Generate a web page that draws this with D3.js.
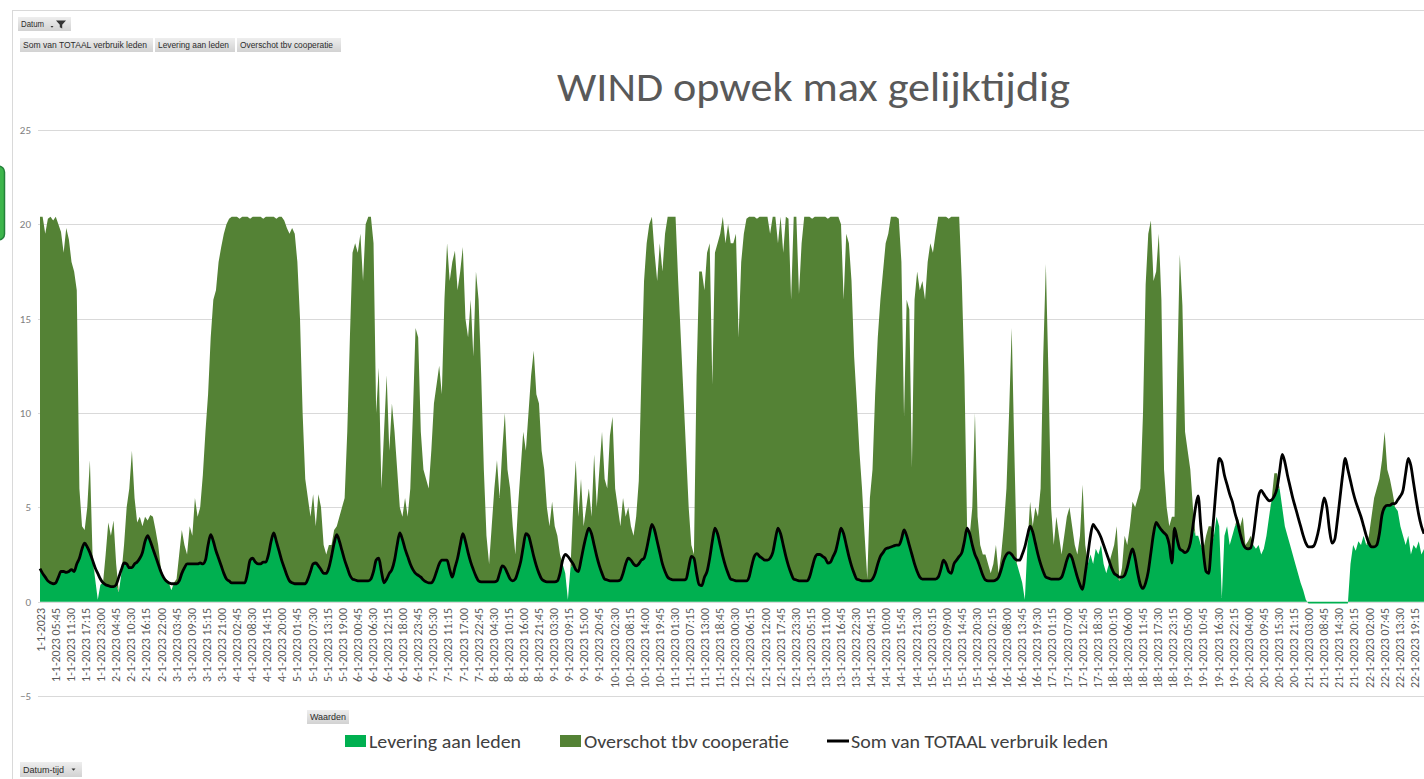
<!DOCTYPE html>
<html><head><meta charset="utf-8">
<script src="https://cdn.jsdelivr.net/npm/d3@7"></script>
<style>
html,body{margin:0;padding:0;background:#fff;overflow:hidden}
svg{display:block;font-family:Carlito,Lato,"Liberation Sans",sans-serif}
</style></head><body>
<svg id="chart" width="1424" height="779"></svg>
<script>
// ---------------- DATA ----------------
const chartTitle = "WIND opwek max gelijktijdig";
const seriesNames = ["Levering aan leden", "Overschot tbv cooperatie", "Som van TOTAAL verbruik leden"];
const seriesColors = ["#00B050", "#548235", "#000000"];
const fieldButtons = ["Som van TOTAAL verbruik leden", "Levering aan leden", "Overschot tbv cooperatie"];
const yTicks = [-5, 0, 5, 10, 15, 20, 25];
const firstDay = "2023-01-01";     // categories: 15-minute timestamps from this day on
const categoryCount = 22 * 96;     // 1-1-2023 00:00 .. 22-1-2023 23:45
const labelEvery = 23;             // Excel shows every 23rd category label
const tickLabels = [
"1-1-2023","1-1-2023 05:45","1-1-2023 11:30","1-1-2023 17:15","1-1-2023 23:00",
"2-1-2023 04:45","2-1-2023 10:30","2-1-2023 16:15","2-1-2023 22:00",
"3-1-2023 03:45","3-1-2023 09:30","3-1-2023 15:15","3-1-2023 21:00",
"4-1-2023 02:45","4-1-2023 08:30","4-1-2023 14:15","4-1-2023 20:00",
"5-1-2023 01:45","5-1-2023 07:30","5-1-2023 13:15","5-1-2023 19:00",
"6-1-2023 00:45","6-1-2023 06:30","6-1-2023 12:15","6-1-2023 18:00","6-1-2023 23:45",
"7-1-2023 05:30","7-1-2023 11:15","7-1-2023 17:00","7-1-2023 22:45",
"8-1-2023 04:30","8-1-2023 10:15","8-1-2023 16:00","8-1-2023 21:45",
"9-1-2023 03:30","9-1-2023 09:15","9-1-2023 15:00","9-1-2023 20:45",
"10-1-2023 02:30","10-1-2023 08:15","10-1-2023 14:00","10-1-2023 19:45",
"11-1-2023 01:30","11-1-2023 07:15","11-1-2023 13:00","11-1-2023 18:45",
"12-1-2023 00:30","12-1-2023 06:15","12-1-2023 12:00","12-1-2023 17:45","12-1-2023 23:30",
"13-1-2023 05:15","13-1-2023 11:00","13-1-2023 16:45","13-1-2023 22:30",
"14-1-2023 04:15","14-1-2023 10:00","14-1-2023 15:45","14-1-2023 21:30",
"15-1-2023 03:15","15-1-2023 09:00","15-1-2023 14:45","15-1-2023 20:30",
"16-1-2023 02:15","16-1-2023 08:00","16-1-2023 13:45","16-1-2023 19:30",
"17-1-2023 01:15","17-1-2023 07:00","17-1-2023 12:45","17-1-2023 18:30",
"18-1-2023 00:15","18-1-2023 06:00","18-1-2023 11:45","18-1-2023 17:30","18-1-2023 23:15",
"19-1-2023 05:00","19-1-2023 10:45","19-1-2023 16:30","19-1-2023 22:15",
"20-1-2023 04:00","20-1-2023 09:45","20-1-2023 15:30","20-1-2023 21:15",
"21-1-2023 03:00","21-1-2023 08:45","21-1-2023 14:30","21-1-2023 20:15",
"22-1-2023 02:00","22-1-2023 07:45","22-1-2023 13:30","22-1-2023 19:15"];

// hourly values (24 per day)
const verbruikPerDag = [
[1.75,1.5,1.3,1.1,1.0,0.95,1.0,1.3,1.6,1.6,1.55,1.6,1.7,1.6,2.0,2.3,2.8,3.1,2.9,2.6,2.2,1.8,1.5,1.2],
[1.0,0.9,0.85,0.8,0.8,0.9,1.3,1.7,2.05,2.0,1.8,1.8,2.0,2.1,2.3,2.6,3.2,3.5,3.2,2.8,2.4,2.0,1.6,1.3],
[1.1,1.0,0.95,0.95,0.95,1.1,1.5,1.8,2.0,2.0,2.0,2.0,2.0,2.05,2.0,2.2,3.0,3.55,3.2,2.7,2.3,1.9,1.5,1.2],
[1.1,1.0,1.0,1.0,1.0,1.0,1.0,1.5,2.2,2.3,2.1,2.0,2.0,2.1,2.1,2.5,3.2,3.65,3.2,2.7,2.2,1.8,1.4,1.1],
[1.0,0.95,0.95,0.95,0.95,0.95,1.2,1.6,2.0,2.05,1.9,1.7,1.5,1.5,1.8,2.4,3.1,3.55,3.2,2.7,2.2,1.8,1.4,1.2],
[1.15,1.1,1.1,1.1,1.1,1.1,1.2,1.6,2.2,2.3,1.6,1.0,1.2,1.5,1.7,2.2,3.0,3.65,3.3,2.8,2.4,2.0,1.7,1.5],
[1.4,1.3,1.15,1.05,1.0,1.0,1.2,1.6,2.0,2.2,2.2,2.2,1.7,1.3,1.8,2.3,3.0,3.6,3.2,2.6,2.1,1.7,1.35,1.1],
[1.05,1.05,1.05,1.05,1.05,1.05,1.1,1.5,1.9,1.8,1.5,1.2,1.1,1.2,1.6,2.1,2.9,3.6,3.5,3.0,2.4,1.9,1.5,1.2],
[1.1,1.05,1.05,1.05,1.05,1.1,1.5,2.2,2.5,2.4,2.2,2.0,1.7,1.6,2.2,2.9,3.5,3.9,3.6,3.0,2.4,1.9,1.5,1.2],
[1.15,1.1,1.1,1.1,1.1,1.15,1.5,2.0,2.3,2.2,2.0,1.9,2.0,2.2,2.3,2.8,3.5,4.1,3.8,3.2,2.6,2.0,1.6,1.3],
[1.2,1.15,1.15,1.15,1.15,1.15,1.2,1.8,2.4,2.3,1.5,0.9,0.85,1.3,1.6,2.3,3.2,3.9,3.6,3.0,2.4,1.9,1.5,1.2],
[1.15,1.1,1.1,1.1,1.1,1.1,1.3,1.9,2.4,2.55,2.4,2.3,2.2,2.2,2.3,2.6,3.3,3.9,3.6,3.0,2.4,1.9,1.5,1.2],
[1.15,1.1,1.1,1.1,1.1,1.3,1.8,2.3,2.5,2.5,2.4,2.3,2.05,2.1,2.4,2.7,3.3,3.9,3.6,3.0,2.4,1.9,1.5,1.2],
[1.15,1.1,1.1,1.1,1.1,1.2,1.5,2.0,2.4,2.6,2.8,2.85,2.9,2.95,3.0,3.0,3.3,3.8,3.5,3.0,2.5,2.0,1.6,1.3],
[1.2,1.2,1.2,1.2,1.2,1.2,1.3,1.7,2.2,2.0,1.6,1.5,2.0,2.2,2.4,2.6,3.2,3.9,3.6,3.0,2.5,2.2,1.8,1.4],
[1.15,1.1,1.1,1.1,1.15,1.3,1.7,2.2,2.5,2.6,2.5,2.3,2.2,2.2,2.5,2.9,3.5,4.0,3.7,3.1,2.5,2.0,1.6,1.3],
[1.25,1.2,1.2,1.2,1.2,1.3,1.7,2.2,2.5,2.3,1.8,1.3,0.9,0.65,1.5,2.5,3.5,4.1,3.9,3.7,3.4,3.0,2.6,2.2],
[1.8,1.5,1.4,1.3,1.3,1.4,1.8,2.4,2.8,2.3,1.5,0.9,0.7,1.0,1.6,2.6,3.6,4.2,4.0,3.8,3.65,3.5,3.0,2.05],
[3.9,3.3,2.8,2.7,2.6,2.7,3.1,4.0,5.0,5.6,4.0,2.6,1.6,1.5,3.0,4.6,6.3,7.6,7.4,6.7,6.2,5.7,5.3,4.7],
[4.2,3.6,3.1,2.85,2.8,2.85,3.5,4.6,5.6,5.9,5.7,5.5,5.35,5.4,5.6,6.0,6.9,7.8,7.4,6.7,6.1,5.5,5.0,4.5],
[4.0,3.5,3.1,2.9,2.9,2.95,3.3,3.9,4.8,5.5,5.0,3.8,3.1,3.3,4.3,5.5,6.7,7.6,7.0,6.4,5.8,5.3,4.9,4.5],
[4.0,3.5,3.1,2.9,2.9,3.0,3.6,4.6,5.0,5.1,5.1,5.2,5.2,5.4,5.6,5.9,6.8,7.6,7.2,6.3,5.4,4.6,4.0,3.6]];

const leveringPerDag = [
[1.75,1.5,1.3,1.1,1.0,0.95,1.0,1.3,1.6,1.6,1.55,1.6,1.7,1.6,2.0,2.3,2.8,3.1,2.9,2.6,2.2,1.2,0.1,0.9],
[1.0,0.9,0.85,0.8,0.8,0.9,0.5,1.5,2.05,2.0,1.8,1.8,2.0,2.1,2.3,2.6,3.2,3.5,3.2,2.8,2.4,2.0,1.6,1.3],
[1.1,1.0,0.6,0.95,0.95,1.1,1.5,1.8,2.0,2.0,2.0,2.0,2.0,2.05,2.0,2.2,3.0,3.55,3.2,2.7,2.3,1.9,1.5,1.2],
[1.1,1.0,1.0,1.0,1.0,1.0,1.0,1.5,2.2,2.3,2.1,2.0,2.0,2.1,2.1,2.5,3.2,3.65,3.2,2.7,2.2,1.8,1.4,1.1],
[1.0,0.95,0.95,0.95,0.95,0.95,1.2,1.6,2.0,2.05,1.9,1.7,1.5,1.5,1.8,2.4,3.1,3.55,3.2,2.7,2.2,1.8,1.4,1.2],
[1.15,1.1,1.1,1.1,1.1,1.1,1.2,1.6,2.2,2.3,1.6,1.0,1.2,1.5,1.7,2.2,3.0,3.65,3.3,2.8,2.4,2.0,1.7,1.5],
[1.4,1.3,1.15,1.05,1.0,1.0,1.2,1.6,2.0,2.2,2.2,2.2,1.7,1.3,1.8,2.3,3.0,3.6,3.2,2.6,2.1,1.7,1.35,1.1],
[1.05,1.05,1.05,1.05,1.05,1.05,1.1,1.5,1.9,1.8,1.5,1.2,1.1,1.2,1.6,2.1,2.9,3.6,3.5,3.0,2.4,1.9,1.5,1.2],
[1.1,1.05,1.05,1.05,1.05,1.1,1.5,2.0,1.5,0.1,1.8,2.0,1.7,1.6,2.2,2.9,3.5,3.9,3.6,3.0,2.4,1.9,1.5,1.2],
[1.15,1.1,1.1,1.1,1.1,1.15,1.5,2.0,2.3,2.2,2.0,1.9,2.0,2.2,2.3,2.8,3.5,4.1,3.8,3.2,2.6,2.0,1.6,1.3],
[1.2,1.15,1.15,1.15,1.15,1.15,1.2,1.8,2.4,2.3,1.5,0.9,0.85,1.3,1.6,2.3,3.2,3.9,3.6,3.0,2.4,1.9,1.5,1.2],
[1.15,1.1,1.1,1.1,1.1,1.1,1.3,1.9,2.4,2.55,2.4,2.3,2.2,2.2,2.3,2.6,3.3,3.9,3.6,3.0,2.4,1.9,1.5,1.2],
[1.15,1.1,1.1,1.1,1.1,1.3,1.8,2.3,2.5,2.5,2.4,2.3,2.05,2.1,2.4,2.7,3.3,3.9,3.6,3.0,2.4,1.9,1.5,1.2],
[1.15,1.1,1.1,1.1,1.1,1.2,1.5,2.0,2.4,2.6,2.8,2.85,2.9,2.95,3.0,3.0,3.3,3.8,3.5,3.0,2.5,2.0,1.6,1.3],
[1.2,1.2,1.2,1.2,1.2,1.2,1.3,1.7,2.2,2.0,1.6,1.5,2.0,2.2,2.4,2.6,3.2,3.9,3.5,3.0,2.5,2.2,1.8,1.4],
[1.15,1.1,1.1,1.1,1.15,1.3,1.7,2.2,2.5,2.6,2.5,2.3,2.0,1.5,1.0,0.1,3.0,4.0,3.7,3.1,2.5,2.0,1.6,1.3],
[1.25,1.2,1.2,1.2,1.2,1.3,1.7,2.2,2.5,2.3,1.8,1.3,0.9,0.65,1.5,2.0,2.5,2.0,2.8,2.5,3.0,2.0,1.5,2.0],
[1.8,1.5,1.4,1.1,1.3,1.4,1.8,2.4,2.8,2.3,1.5,0.9,0.7,1.0,1.6,2.6,3.6,4.2,4.0,3.8,3.65,3.5,3.0,2.05],
[3.9,3.3,2.8,2.7,2.6,2.7,3.1,4.0,3.5,3.5,3.0,2.6,1.6,1.5,3.0,3.5,4.5,4.0,0.2,3.5,4.0,3.0,3.5,4.0],
[4.2,3.6,3.1,2.85,2.8,2.85,3.0,2.8,3.0,2.5,2.8,3.5,4.5,5.4,5.6,6.0,6.0,5.0,4.0,3.5,3.0,2.5,2.0,1.5],
[1.0,0.6,0.1,-0.1,-0.1,-0.1,-0.1,-0.1,-0.1,-0.1,-0.1,-0.1,-0.1,-0.1,-0.1,-0.1,-0.1,-0.1,-0.1,2.0,3.0,2.7,3.2,3.0],
[3.5,3.0,3.1,2.9,2.9,3.0,3.6,4.6,5.0,5.1,5.1,5.2,5.0,4.8,4.0,3.5,3.0,3.5,2.5,3.0,2.8,3.2,2.5,2.8]];

const overschotPerDag = [
[18.65,18.9,18.2,19.2,19.4,19.25,19.4,18.7,18.0,16.9,18.25,17.6,16.3,15.9,14.5,3.7,1.2,0.7,2.1,4.9,0.3,0,0,0],
[0,1.6,3.35,2.7,3.5,1.1,0,0,0.95,3.0,4.2,6.2,3.5,2.1,2.2,1.4,1.3,0.8,1.4,1.7,1.4,1.0,0.2,0],
[0.1,0.1,0,0.05,0.25,1.4,2.3,1.2,0.5,2.0,1.5,3.5,2.5,2.95,4.7,6.8,8.0,10.45,12.8,13.8,15.7,16.9,18.0,18.8],
[19.2,19.4,19.4,19.4,19.3,19.4,19.4,18.9,18.1,18.1,18.3,18.4,18.4,18.2,18.3,17.9,17.2,16.75,17.1,17.7,18.2,18.4,18.4,18.4],
[18.8,18.55,17.05,14.05,9.05,5.55,4.3,2.9,3.7,1.95,3.8,3.3,1.5,1.0,1.2,0.6,0.7,0.45,1.3,2.3,3.3,7.2,12.6,17.3],
[17.85,17.4,18.4,15.9,18.9,19.3,19.2,17.4,7.8,10.1,4.4,8.0,10.8,6.5,8.8,6.8,4.0,1.35,1.2,2.7,2.1,4.0,8.3,13.0],
[12.6,7.7,5.85,5.45,5.0,7.0,9.3,9.9,10.5,8.8,13.8,16.8,15.3,16.7,16.8,14.2,14.5,15.2,11.8,11.4,13.9,11.3,16.15,14.9],
[10.95,5.95,2.45,0.95,2.95,4.95,6.4,4.0,6.1,8.2,5.5,4.8,2.9,1.3,3.4,4.9,6.1,4.4,6.5,9.0,10.9,9.1,9.0,6.8],
[5.9,3.95,2.95,4.25,2.95,2.4,1.0,0,0,0,0,3.0,5.8,2.9,4.3,1.1,1.5,2.1,0.9,4.8,2.6,5.1,7.5,5.3],
[4.85,7.7,8.7,4.9,3.9,2.85,4.0,2.5,2.7,1.8,1.5,2.6,4.4,9.8,14.7,16.2,16.5,16.3,14.7,13.8,16.4,15.5,17.9,19.1],
[19.2,19.25,19.25,15.85,12.85,9.85,6.8,3.2,0.6,0.2,10.5,16.6,16.65,15.2,16.9,16.7,8.3,14.6,15.4,16.5,18.0,17.1,18.5,17.8],
[17.85,18.4,12.9,16.9,18.4,19.2,19.1,18.5,18.0,17.75,18.0,18.1,18.2,18.2,17.2,17.8,17.1,15.1,16.8,15.5,18.0,18.4,14.5,19.2],
[19.25,15.2,17.9,19.3,19.3,19.1,18.5,18.1,17.9,17.9,18.0,18.1,18.25,18.3,18.0,17.7,17.1,16.1,12.4,16.5,16.6,15.1,11.5,9.4],
[6.85,4.9,2.4,0.1,4.4,5.8,9.5,12.0,13.6,14.9,16.2,16.65,17.5,17.45,17.4,17.3,14.7,6.0,12.5,12.5,4.6,14.0,15.9,15.2],
[15.8,14.8,16.8,17.8,17.3,18.3,19.1,18.7,18.2,18.4,18.7,18.9,18.4,18.2,18.0,14.4,8.8,0.1,0,2.0,7.5,2.3,1.2,1.1],
[1.35,0.9,0.4,0.9,1.85,0.2,0.8,1.8,3.5,7.4,12.0,5.7,0,0,0,0,0,1.3,0.3,1.9,2.0,4.0,11.4,16.6],
[10.75,3.8,1.8,3.3,2.3,1.2,1.8,2.3,2.5,1.7,1.2,1.2,2.6,5.55,1.5,0,0,0,0,0,0,0,0,0],
[0.7,1.5,2.6,0,0.5,2.1,1.2,1.6,2.5,2.7,4.0,5.1,9.3,15.8,17.9,17.6,13.4,13.3,15.5,12.2,3.35,1.5,1.0,2.45],
[0.6,8.7,15.6,13.0,6.4,5.3,3.9,1.0,0,0,0,0.2,1.9,2.5,1.0,0,0,0,0,0,0,0,0,0],
[0.3,0.4,1.4,0.15,0.4,0.65,0,0,0,0,0,0,0,0.1,1.2,0.8,0,0,0,0,0,0,0,0],
[0,0,0,0,0,0,0,0,0,0,0,0,0,0,0,0,0,0,0,0,0,0,0,0],
[0,0,0.4,1.6,2.6,3.0,2.9,2.9,4.0,1.9,1.4,0.6,0,0,0,0,0,0,0,0,0,0,0,0]];

// ---------------- CHART ----------------
const verbruik = verbruikPerDag.flat();
const levering = leveringPerDag.flat();
const overschot = overschotPerDag.flat();
const start = new Date(firstDay + "T00:00:00");
const QUARTER = 15 * 60 * 1000, HOUR = 4 * QUARTER;
const rows = verbruik.map((v, i) => ({
  t: new Date(+start + i * HOUR), verbruik: v, levering: levering[i], overschot: overschot[i]
}));

const svg = d3.select("#chart");
const x = d3.scaleTime().domain([start, new Date(+start + (categoryCount - 1) * QUARTER)]).range([40, 1426]);
const y = d3.scaleLinear().domain([-5, 25]).range([696, 130]);

// chart frame
svg.append("line").attr("x1", 12.5).attr("x2", 12.5).attr("y1", 10).attr("y2", 779).attr("stroke", "#d9d9d9");
svg.append("line").attr("x1", 12).attr("x2", 1424).attr("y1", 10.5).attr("y2", 10.5).attr("stroke", "#d9d9d9");
// green handle at the left edge
svg.append("rect").attr("x", -10).attr("y", 166).attr("width", 14.5).attr("height", 74).attr("rx", 6)
  .attr("fill", "#3cb54b").attr("stroke", "#23803a").attr("stroke-width", 1.5);

// gradients for pivot buttons
const defs = svg.append("defs");
const grad = defs.append("linearGradient").attr("id", "btn").attr("x1", 0).attr("y1", 0).attr("x2", 0).attr("y2", 1);
grad.append("stop").attr("offset", "0%").attr("stop-color", "#eeeeee");
grad.append("stop").attr("offset", "100%").attr("stop-color", "#d2d2d2");

function fit(sel, w) { sel.attr("textLength", w).attr("lengthAdjust", "spacingAndGlyphs"); return sel; }

function button(x0, y0, w, h, label, tw) {
  const g = svg.append("g");
  g.append("rect").attr("x", x0).attr("y", y0).attr("width", w).attr("height", h).attr("fill", "url(#btn)");
  const t = g.append("text").attr("x", x0 + 3).attr("y", y0 + h / 2 + 3).attr("font-size", 8.5)
    .attr("font-family", "'Liberation Sans',Arial,sans-serif").attr("fill", "#2b2b2b").text(label);
  if (tw) fit(t, tw);
  return g;
}
// Datum filter button
const bDatum = button(18, 17, 53, 14, "Datum", 23);
bDatum.append("path").attr("d", "M50.5,26 h3 l-1.5,1.8 z").attr("fill", "#333");
bDatum.append("path").attr("d", "M56,20.5 h10 l-3.8,4.2 v3.8 l-2.4,-1.2 v-2.6 z").attr("fill", "#333");
// value field buttons
button(20, 38, 133, 14, fieldButtons[0], 124);
button(155, 38, 80, 14, fieldButtons[1], 71);
button(237, 38, 104, 14, fieldButtons[2], 93);
// Waarden, Datum-tijd
button(307, 710, 42, 14, "Waarden", 36);
const bDT = button(20, 762, 62, 15, "Datum-tijd", 41);
bDT.append("path").attr("d", "M71.5,768.5 h4 l-2,2.2 z").attr("fill", "#333");

// title
fit(svg.append("text").attr("x", 557).attr("y", 101).attr("font-size", 40).attr("fill", "#595959")
  .text(chartTitle), 513);

// gridlines
svg.append("g").selectAll("line").data(yTicks).join("line")
  .attr("x1", 38).attr("x2", 1424).attr("y1", d => Math.round(y(d)) + 0.5).attr("y2", d => Math.round(y(d)) + 0.5)
  .attr("stroke", "#d9d9d9").attr("stroke-width", 1);

// y axis labels
const yAxis = svg.append("g").attr("transform", "translate(38,0)")
  .call(d3.axisLeft(y).tickValues(yTicks).tickSize(0).tickPadding(7).tickFormat(d3.format("d")));
yAxis.select(".domain").remove();
yAxis.selectAll("text").attr("font-size", 11).attr("fill", "#808080").attr("font-family", "Carlito,Lato,sans-serif");

// stacked areas
const stack = d3.stack().keys(["levering", "overschot"]);
const layers = stack(rows);
const area = d3.area().x(d => x(d.data.t)).y0(d => y(d[0])).y1(d => y(d[1])).curve(d3.curveLinear);
svg.append("g").selectAll("path").data(layers).join("path")
  .attr("d", area).attr("fill", (d, i) => seriesColors[i]);

// consumption line
const line = d3.line().x(d => x(d.t)).y(d => y(d.verbruik)).curve(d3.curveMonotoneX);
svg.append("path").datum(rows).attr("d", line).attr("fill", "none").attr("stroke", seriesColors[2])
  .attr("stroke-width", 2.8).attr("stroke-linejoin", "round");

// x axis labels (every 23rd category)
const tickDates = tickLabels.map((_, k) => new Date(+start + k * labelEvery * QUARTER));
const xAxis = svg.append("g").attr("transform", "translate(0,601)")
  .call(d3.axisBottom(x).tickValues(tickDates).tickSize(0).tickFormat((d, i) => tickLabels[i]));
xAxis.select(".domain").remove();
const xt = xAxis.selectAll("text").attr("transform", "rotate(-90)").attr("x", -7).attr("y", 0)
  .attr("dy", "0.35em").attr("text-anchor", "end").attr("fill", "#595959")
  .attr("font-family", "Carlito,Lato,sans-serif").attr("font-size", 11);
// scale font so a 15-character label is ~80px long, as in the reference
const refNode = xt.nodes()[64];
const natural = refNode.getComputedTextLength();
xt.attr("font-size", 11 * 80 / natural);

// legend
const lg = svg.append("g").attr("font-size", 19).attr("fill", "#404040");
lg.append("rect").attr("x", 345).attr("y", 735).attr("width", 21).attr("height", 12).attr("fill", seriesColors[0]);
fit(lg.append("text").attr("x", 369).attr("y", 748).text(seriesNames[0]), 152);
lg.append("rect").attr("x", 560).attr("y", 735).attr("width", 21).attr("height", 12).attr("fill", seriesColors[1]);
fit(lg.append("text").attr("x", 584).attr("y", 748).text(seriesNames[1]), 205);
lg.append("line").attr("x1", 827).attr("x2", 849).attr("y1", 741).attr("y2", 741)
  .attr("stroke", seriesColors[2]).attr("stroke-width", 3);
fit(lg.append("text").attr("x", 851).attr("y", 748).text(seriesNames[2]), 257);
</script>
</body></html>
